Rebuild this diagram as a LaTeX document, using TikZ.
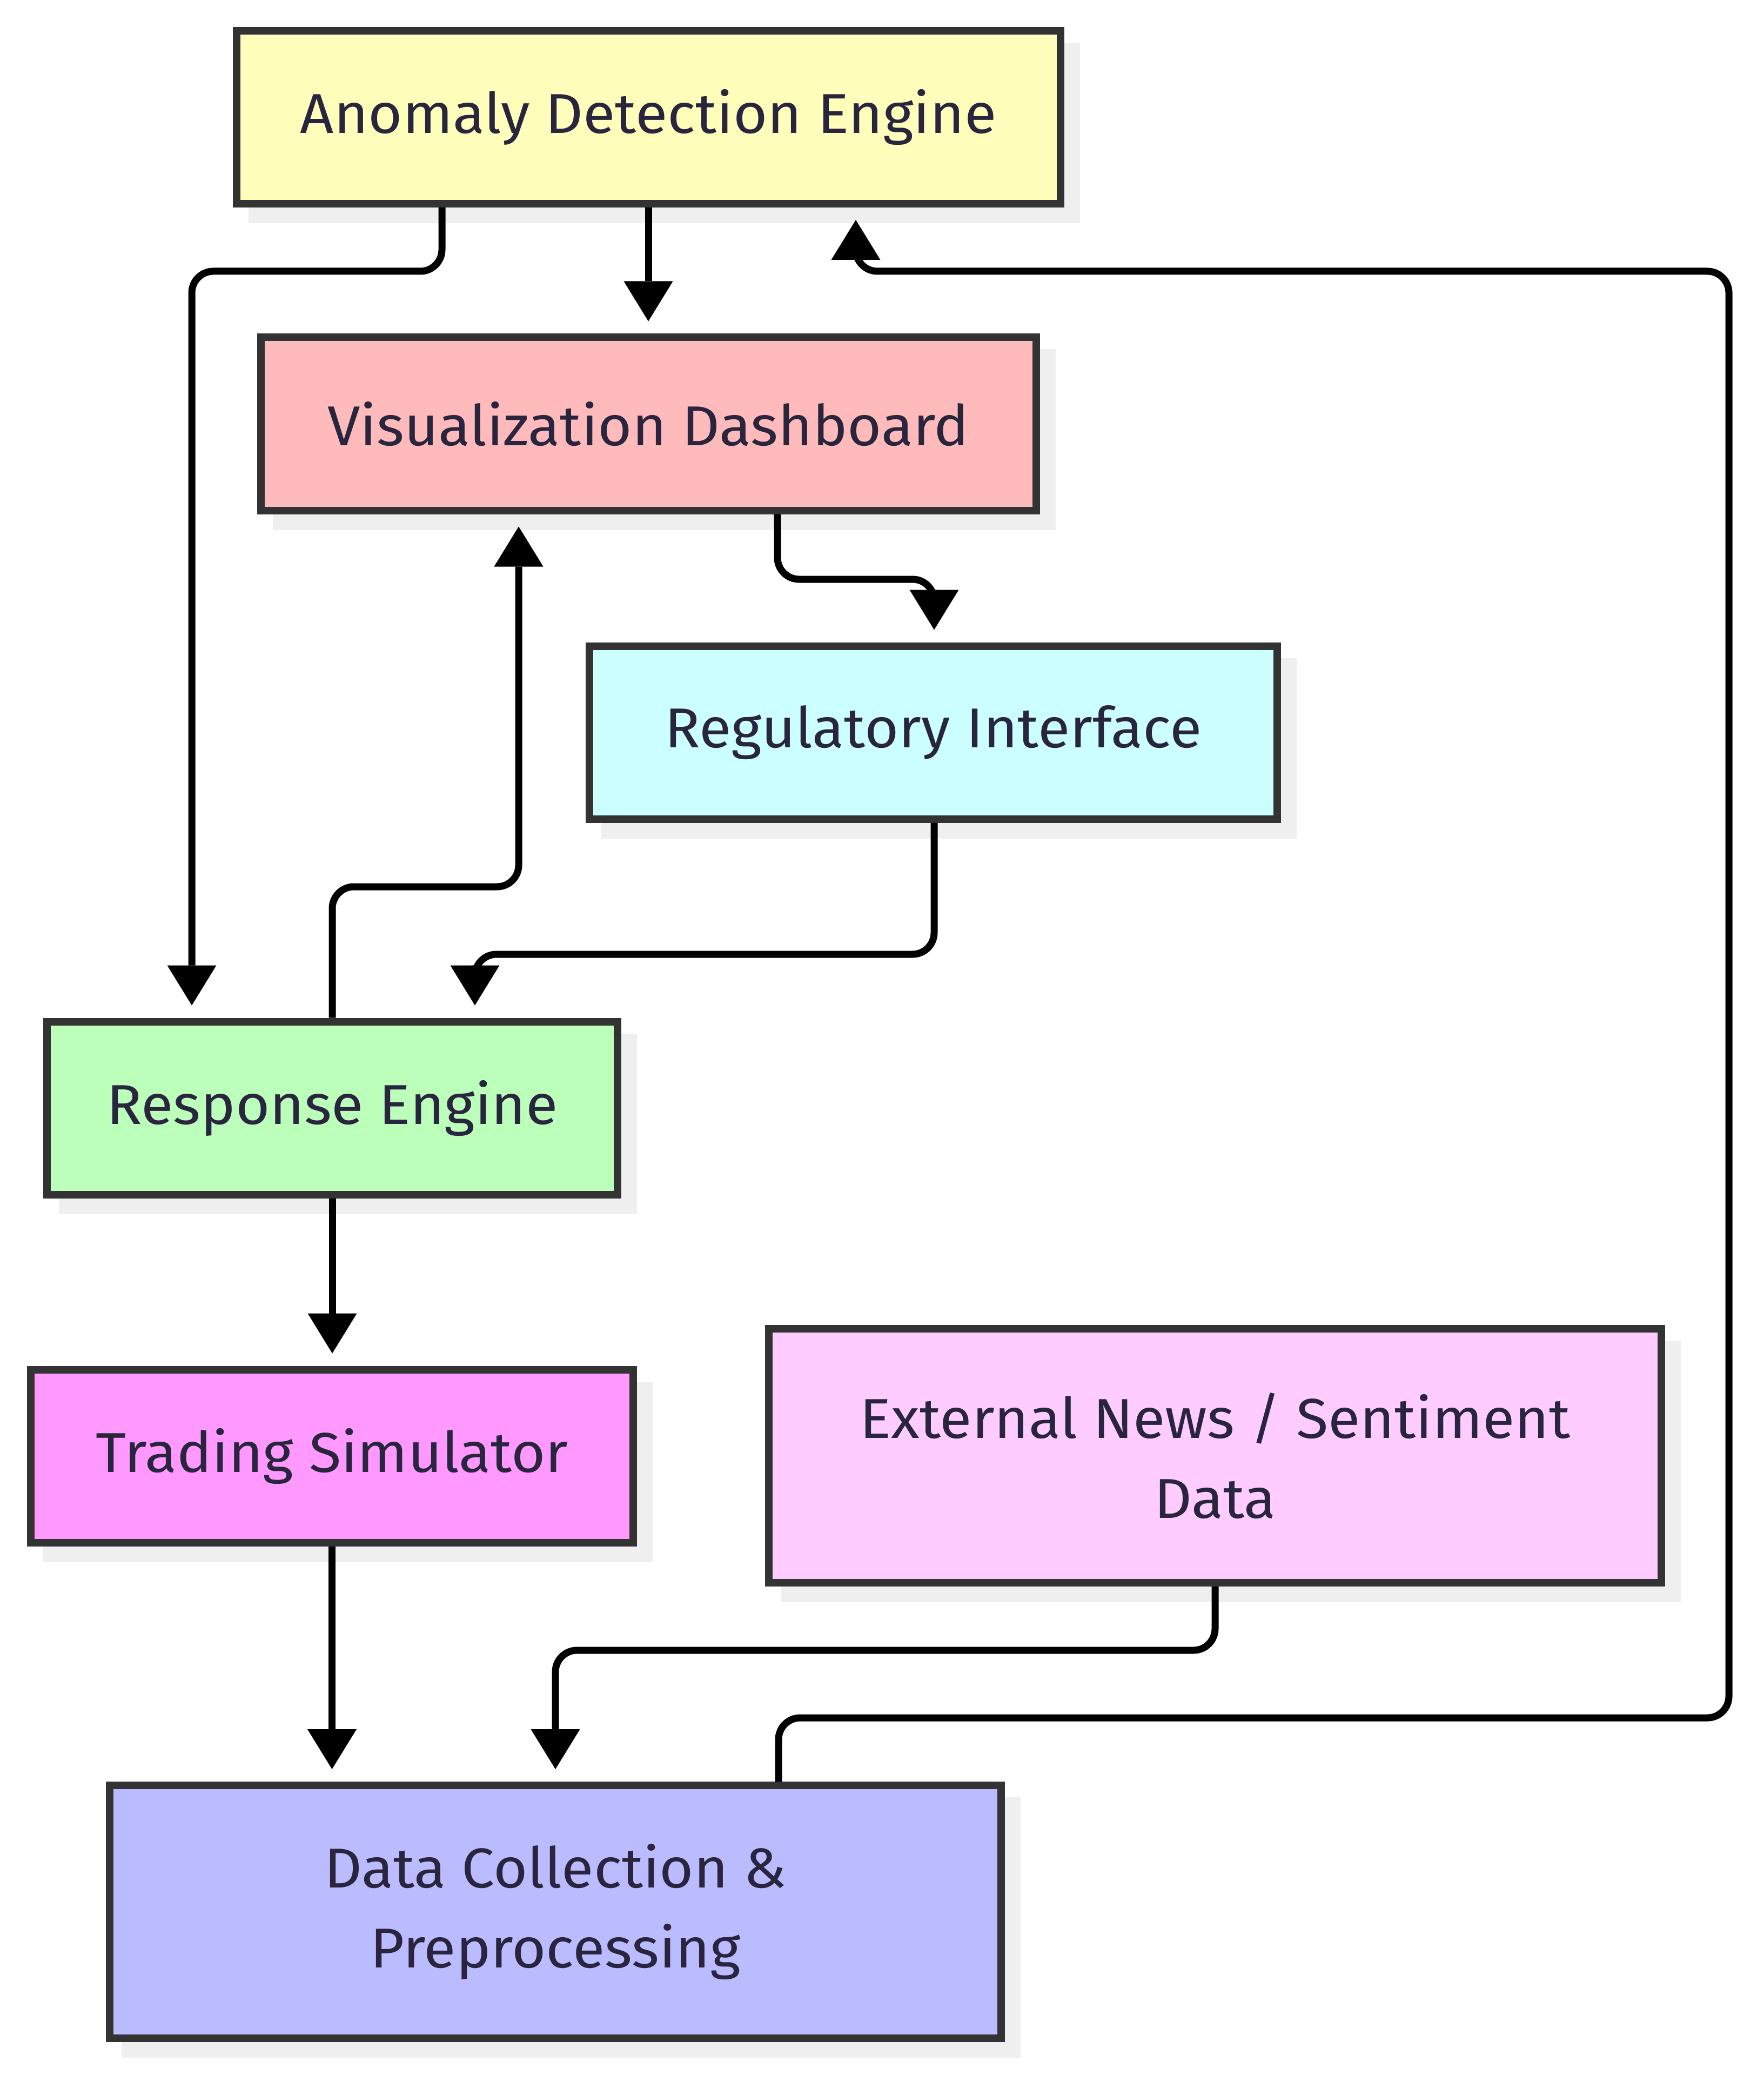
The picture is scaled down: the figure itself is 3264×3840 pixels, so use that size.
\documentclass[tikz,border=0pt]{standalone}
\usepackage{fontspec}
\setmainfont{Fira Sans}[FakeStretch=1.045]
\usetikzlibrary{arrows.meta,shadows}
\definecolor{bordc}{HTML}{333333}
\definecolor{txtc}{HTML}{2A253E}
\definecolor{shc}{HTML}{EFEFEF}
\definecolor{cAnom}{HTML}{FFFFBB}
\definecolor{cVis}{HTML}{FFBBBB}
\definecolor{cReg}{HTML}{CCFFFF}
\definecolor{cResp}{HTML}{BBFFBB}
\definecolor{cTrad}{HTML}{FF99FF}
\definecolor{cExt}{HTML}{FFCCFF}
\definecolor{cDc}{HTML}{BBBBFF}
\tikzset{
  box/.style={draw=bordc, line width=3.5pt, inner sep=0pt, text=txtc, align=center,
    font=\fontsize{26}{37}\selectfont, minimum height=80pt,
    drop shadow={shadow xshift=7.25pt, shadow yshift=-7.25pt, opacity=1, fill=shc, draw=shc, line width=3.5pt}},
  conn/.style={draw=black, line width=3.25pt,
    -{Triangle[length=18.5pt,width=22.75pt,line width=0pt]},
    shorten >=5.75pt, rounded corners=10pt},
}
\begin{document}
\begin{tikzpicture}[x=0.25pt,y=-0.25pt]
\fill[white] (0,0) rectangle (3264,3840);
\useasboundingbox (0,0) rectangle (3264,3840);

\node[box, fill=cAnom, minimum width=381.25pt] (anom) at (1200,217) {Anomaly Detection Engine};
\node[box, fill=cVis, minimum width=358.75pt] (vis) at (1200,784.5) {Visualization Dashboard};
\node[box, fill=cReg, minimum width=318.25pt] (reg) at (1727.5,1355.5) {Regulatory Interface};
\node[box, fill=cResp, minimum width=264pt] (resp) at (615,2050.5) {Response Engine};
\node[box, fill=cTrad, minimum width=278.75pt] (trad) at (614.5,2694.5) {Trading Simulator};
\node[box, fill=cExt, minimum width=413pt, minimum height=117.5pt] (ext) at (2249,2694) {External News / Sentiment\\Data};
\node[box, fill=cDc, minimum width=412.5pt, minimum height=117pt] (dc) at (1028,3538) {Data Collection \&\\Preprocessing};

\coordinate (k1) at (818,502);
\coordinate (k2) at (355,502);
\coordinate (k3) at (1441,3179);
\coordinate (k4) at (3200,3179);
\coordinate (k5) at (3200,502);
\coordinate (k6) at (1584,502);
\coordinate (k7) at (1439,1072);
\coordinate (k8) at (1729,1072);
\coordinate (k9) at (615,1641);
\coordinate (k10) at (960,1641);
\coordinate (k11) at (1729,1766);
\coordinate (k12) at (879,1766);
\coordinate (k13) at (2249,3054);
\coordinate (k14) at (1028,3054);

\draw[conn] (anom.south) -- (vis.north);
\draw[conn] (anom.south -| k1) -- (k1) -- (k2) -- (resp.north -| k2);
\draw[conn] (dc.north -| k3) -- (k3) -- (k4) -- (k5) -- (k6) [rounded corners=4pt] -- (anom.south -| k6);
\draw[conn] (vis.south -| k7) -- (k7) -- (k8) [rounded corners=4pt] -- (reg.north -| k8);
\draw[conn] (resp.north -| k9) -- (k9) -- (k10) -- (vis.south -| k10);
\draw[conn] (reg.south -| k11) -- (k11) -- (k12) [rounded corners=4pt] -- (resp.north -| k12);
\draw[conn] (resp.south) -- (resp.south |- trad.north);
\draw[conn] (trad.south) -- (trad.south |- dc.north);
\draw[conn] (ext.south -| k13) -- (k13) -- (k14) -- (dc.north -| k14);
\end{tikzpicture}
\end{document}
